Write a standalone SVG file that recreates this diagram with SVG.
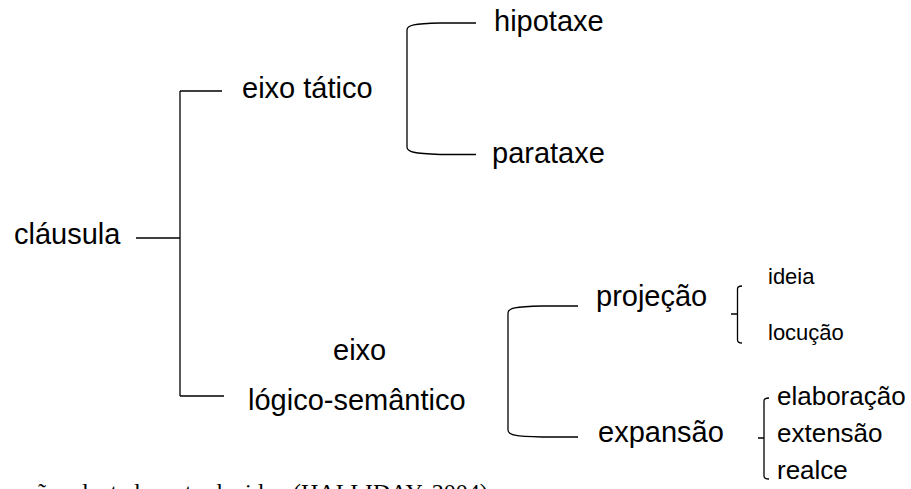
<svg xmlns="http://www.w3.org/2000/svg" width="911" height="489" viewBox="0 0 911 489">
<style>
text{font-family:"Liberation Sans",Arial,sans-serif;fill:#000}
.big{font-size:29px}
.small{font-size:22px}
.mid{font-size:26px}
.cap{font-family:"Liberation Serif","Times New Roman",serif;font-size:24px}
.ln{fill:none;stroke:#000;stroke-width:1.3}
</style>
<rect width="911" height="489" fill="#fff"/>
<g id="connectors">
<path class="ln" d="M136,238 H180 M180,91 V396 M180,91 H222 M180,396 H224"/>
<path class="ln" d="M476,23 H440 C414,23.5 407,25 407,30 V147 C407,152 414,153.5 440,154.5 H476"/>
<path class="ln" d="M578,306 H542 C515,306.5 508,308 508,313 V430 C508,435 515,436.5 542,437 H578"/>
<path class="ln" d="M742,286 C739,286 737.5,287 737.5,289 V340 C737.5,342 739,343 742,343 M731,314 H737.5"/>
<path class="ln" d="M769,398 C766,398 764,399 764,401 V476 C764,478 766,479 769,479 M758,438 H764"/>
</g>
<g id="clausula"><text class="big" x="14" y="244">cláusula</text></g>
<g id="eixo-tatico"><text class="big" x="242" y="98">eixo tático</text></g>
<g id="hipotaxe"><text class="big" x="494" y="31">hipotaxe</text></g>
<g id="parataxe"><text class="big" x="492" y="163">parataxe</text></g>
<g id="eixo-logico"><text class="big" x="333" y="360">eixo</text><text class="big" x="248" y="410">lógico-semântico</text></g>
<g id="projecao"><text class="big" x="596" y="306">projeção</text></g>
<g id="expansao"><text class="big" x="598" y="442">expansão</text></g>
<g id="ideia"><text class="small" x="768" y="284">ideia</text></g>
<g id="locucao"><text class="small" x="768" y="340">locução</text></g>
<g id="elaboracao"><text class="mid" x="777" y="405">elaboração</text></g>
<g id="extensao"><text class="mid" x="777" y="442">extensão</text></g>
<g id="realce"><text class="mid" x="777" y="479">realce</text></g>
<g id="caption"><text class="cap" y="500"><tspan x="26">ção adaptada</tspan><tspan x="168">e</tspan><tspan x="185">traduzida</tspan><tspan x="293">(HALLIDAY, 2004)</tspan></text></g>
</svg>
